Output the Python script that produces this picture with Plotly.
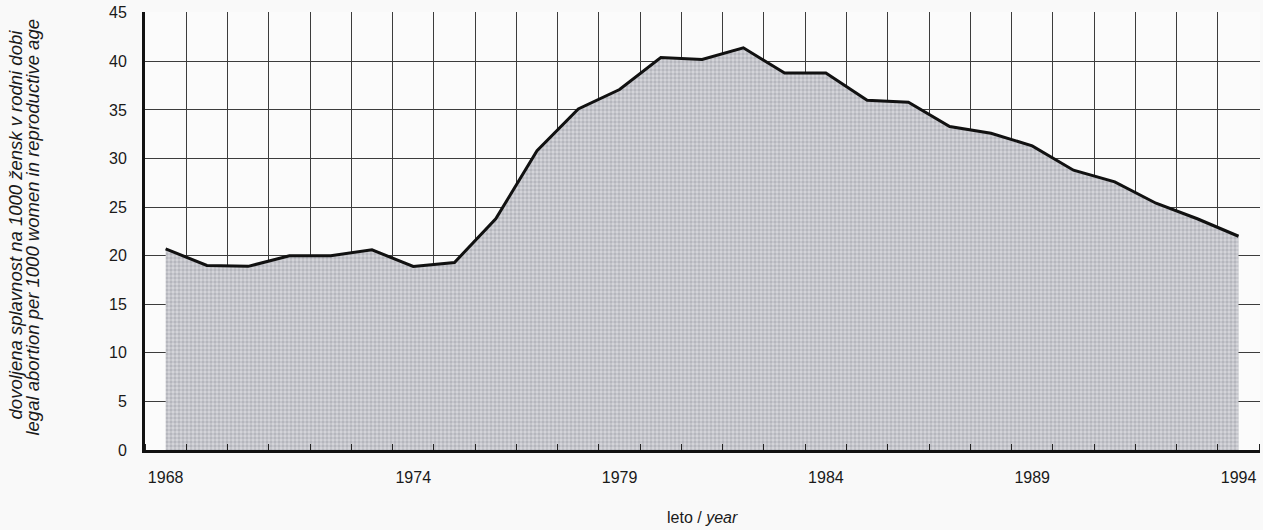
import plotly.graph_objects as go

years = list(range(1968, 1995))
abortion_rate = [20.7, 19.0, 18.9, 20.0, 20.0, 20.6, 18.9, 19.3, 23.8, 30.8,
                 35.1, 37.1, 40.4, 40.2, 41.4, 38.8, 38.8, 36.0, 35.8, 33.3,
                 32.6, 31.3, 28.8, 27.6, 25.4, 23.8, 22.0]
year_labels = [1968, 1974, 1979, 1984, 1989, 1994]
y_ticks = [0, 5, 10, 15, 20, 25, 30, 35, 40, 45]
y_title_si = "dovoljena splavnost na 1000 žensk v rodni dobi"
y_title_en = "legal abortion per 1000 women in reproductive age"
x_title = "leto / <i>year</i>"

fig = go.Figure()
fig.add_trace(go.Scatter(
    x=years, y=abortion_rate, mode="lines", fill="tozeroy",
    line=dict(color="#111111", width=3),
    fillcolor="#c2c2c8",
    fillpattern=dict(shape=".", size=4, solidity=0.55,
                     fgcolor="#9496a0", bgcolor="#d6d6db"),
    showlegend=False, hoverinfo="skip",
))

font_family = "Liberation Sans, Arial, sans-serif"
fig.update_layout(
    width=1263, height=530,
    margin=dict(l=145, r=3, t=12, b=80, autoexpand=False),
    paper_bgcolor="#f9f9f9", plot_bgcolor="#fbfbfb",
    font=dict(family=font_family, color="#1a1a1a"),
    xaxis=dict(
        range=[1967.5, 1994.52], automargin=False,
        tickvals=year_labels, ticktext=[str(v) for v in year_labels],
        ticks="", showgrid=False, zeroline=False,
        showline=True, linecolor="#111111", linewidth=3,
        tickfont=dict(size=16), ticklabelstandoff=11,
        minor=dict(tick0=1968.5, dtick=1, showgrid=True, gridcolor="#3c3c3c",
                   gridwidth=1, ticks="inside", ticklen=6, tickcolor="#222",
                   tickwidth=1),
    ),
    yaxis=dict(
        range=[0, 45.08], automargin=False,
        tickvals=y_ticks, ticks="", showgrid=True, gridcolor="#3c3c3c",
        gridwidth=1, zeroline=False,
        showline=True, linecolor="#111111", linewidth=3,
        tickfont=dict(size=16), ticklabelstandoff=12,
    ),
    annotations=[
        dict(text=f"<i>{y_title_si}</i>", xref="paper", yref="paper",
             x=-0.1166, y=0.515, xanchor="center", yanchor="middle",
             textangle=-90, showarrow=False, font=dict(size=18.5)),
        dict(text=f"<i>{y_title_en}</i>", xref="paper", yref="paper",
             x=-0.1005, y=0.51, xanchor="center", yanchor="middle",
             textangle=-90, showarrow=False, font=dict(size=18.5)),
        dict(text=x_title, xref="paper", yref="paper",
             x=0.5, y=-0.155, xanchor="center", yanchor="middle",
             showarrow=False, font=dict(size=16)),
    ],
)

fig.write_html("out.html", config={"displayModeBar": False},
               post_script="document.body.style.margin='0';")
